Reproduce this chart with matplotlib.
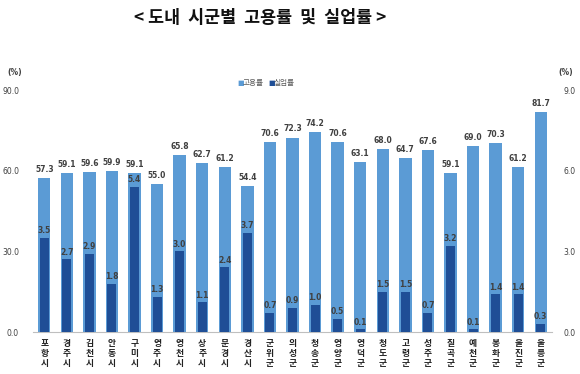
import matplotlib
matplotlib.use("Agg")
import matplotlib.pyplot as plt
import numpy as np

plt.rcParams['font.family'] = ['Noto Sans CJK KR', 'DejaVu Sans']

regions = ["포항시", "경주시", "김천시", "안동시", "구미시", "영주시", "영천시", "상주시",
           "문경시", "경산시", "군위군", "의성군", "청송군", "영양군", "영덕군", "청도군",
           "고령군", "성주군", "칠곡군", "예천군", "봉화군", "울진군", "울릉군"]
employment = [57.3, 59.1, 59.6, 59.9, 59.1, 55.0, 65.8, 62.7, 61.2, 54.4, 70.6, 72.3,
              74.2, 70.6, 63.1, 68.0, 64.7, 67.6, 59.1, 69.0, 70.3, 61.2, 81.7]
unemployment = [3.5, 2.7, 2.9, 1.8, 5.4, 1.3, 3.0, 1.1, 2.4, 3.7, 0.7, 0.9,
                1.0, 0.5, 0.1, 1.5, 1.5, 0.7, 3.2, 0.1, 1.4, 1.4, 0.3]
left_ticks = [0.0, 30.0, 60.0, 90.0]
right_ticks = [0.0, 3.0, 6.0, 9.0]

light = "#5B9BD5"
dark = "#1F4E96"
txt = "#404040"

fig = plt.figure(figsize=(5.8, 3.74), dpi=100)
ax = fig.add_axes([33/580, 1-332/374, (552-33)/580, (332-90)/374])
ax2 = ax.twinx()

x = np.arange(len(regions))
ax.bar(x, employment, width=0.55, color=light, zorder=2)
ax2.bar(x, unemployment, width=0.4, color=dark, zorder=3)

for xi, v in zip(x, employment):
    ax.annotate(f"{v:.1f}", (xi, v), xytext=(0, 3), textcoords="offset points",
                ha="center", va="bottom", fontsize=5.5, fontweight="bold", color=txt,
                family="DejaVu Sans")
for xi, v in zip(x, unemployment):
    ax2.annotate(f"{v:.1f}", (xi, v), xytext=(0, 2), textcoords="offset points",
                 ha="center", va="bottom", fontsize=5.5, fontweight="bold", color=txt,
                 family="DejaVu Sans", zorder=5)

ax.set_xlim(-0.5, len(regions) - 0.5)
ax.set_ylim(0, 90)
ax2.set_ylim(0, 9)

ax.set_yticks(left_ticks)
ax.set_yticklabels([f"{t:.1f}" for t in left_ticks], fontsize=5.5, color=txt, family="DejaVu Sans")
ax2.set_yticks(right_ticks)
ax2.set_yticklabels([f"{t:.1f}" for t in right_ticks], fontsize=5.5, color=txt, family="DejaVu Sans")
ax.tick_params(axis='y', length=0, pad=10)
ax2.tick_params(axis='y', length=0, pad=8)

ax.set_xticks(x)
ax.set_xticklabels(["\n".join(r) for r in regions], fontsize=6.3, fontweight="bold",
                   color="#222222", linespacing=1.15)
ax.tick_params(axis='x', length=0, pad=5)

for a in (ax, ax2):
    for s in ("top", "left", "right"):
        a.spines[s].set_visible(False)
    a.spines["bottom"].set_color("#BFBFBF")
    a.spines["bottom"].set_linewidth(0.8)
ax2.spines["bottom"].set_visible(False)

fig.text(15/580, 1-72/374, "(%)", fontsize=5.5, color=txt, ha="center", va="center",
         fontweight="bold", family="DejaVu Sans")
fig.text(566/580, 1-72/374, "(%)", fontsize=5.5, color=txt, ha="center", va="center",
         fontweight="bold", family="DejaVu Sans")

# legend
fig.text(237/580, 1-83/374, "■", fontsize=5, color=light, ha="left", va="center",
         family="DejaVu Sans")
fig.text(243/580, 1-83/374, "고용률", fontsize=5.5, color="#595959", ha="left", va="center")
fig.text(268/580, 1-83/374, "■", fontsize=5, color=dark, ha="left", va="center",
         family="DejaVu Sans")
fig.text(274/580, 1-83/374, "실업률", fontsize=5.5, color="#595959", ha="left", va="center")

fig.text(260/580, 1-18/374, "< 도내  시군별  고용률  및  실업률 >", fontsize=12.5,
         fontweight="bold", ha="center", va="center", color="#111111")

fig.savefig("out.png", dpi=100)
